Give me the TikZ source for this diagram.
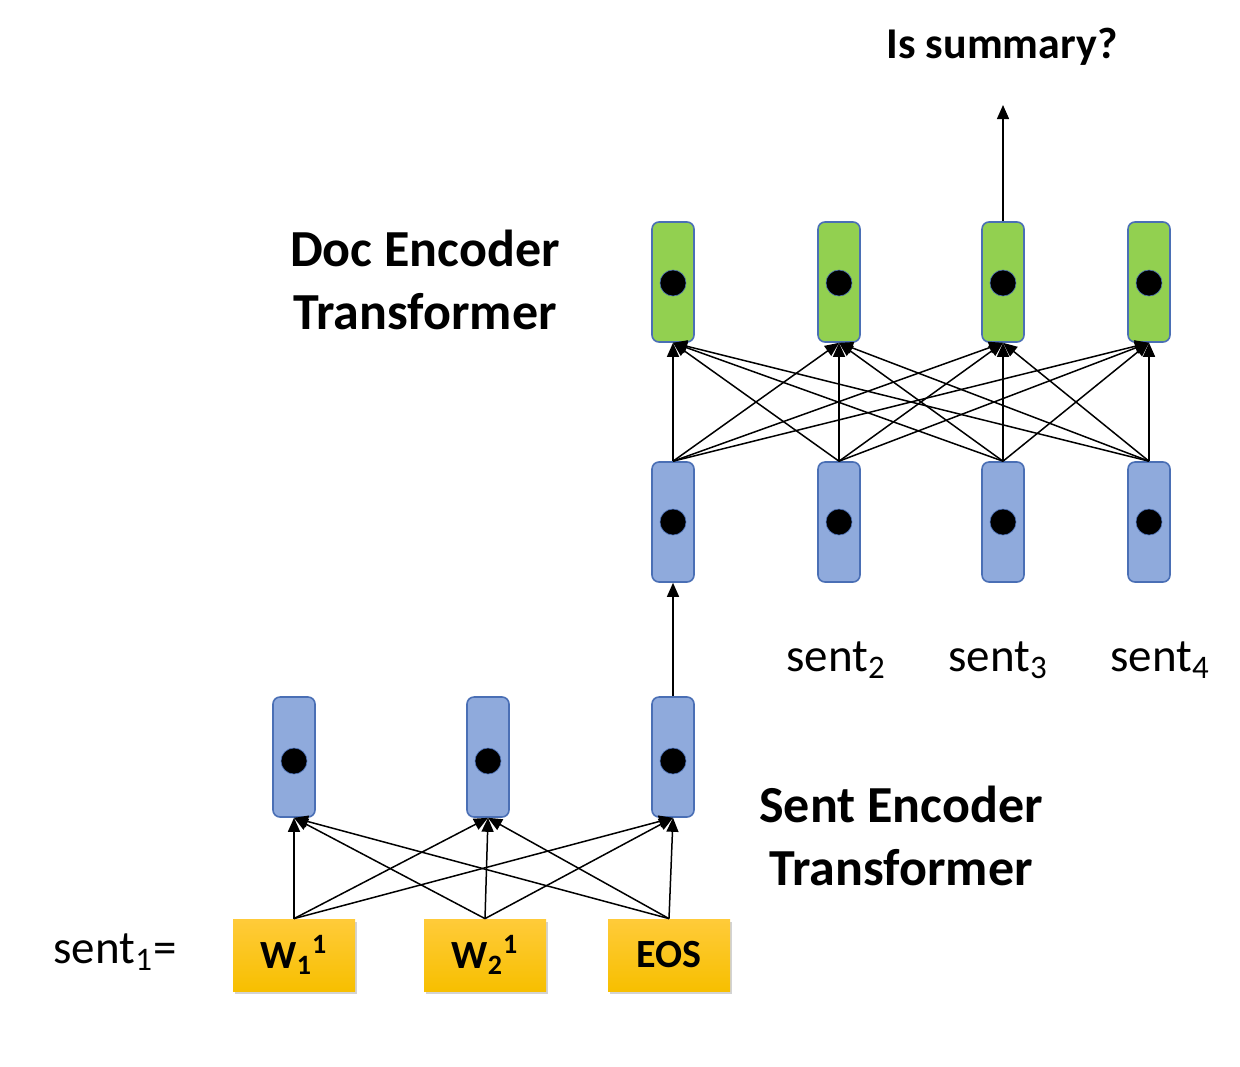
\documentclass[tikz,border=0pt]{standalone}
\usepackage{fontspec}
\setmainfont{Carlito}
\usetikzlibrary{arrows.meta,shadows}
\definecolor{bfill}{HTML}{8FAADC}
\definecolor{bdraw}{HTML}{4A6FB5}
\definecolor{gfill}{HTML}{92D050}
\definecolor{ytop}{HTML}{FFCB3A}
\definecolor{ybot}{HTML}{F7BF00}
\tikzset{
  vec/.style={draw=bdraw, line width=0.8pt, rounded corners=3.5pt, minimum width=21pt, minimum height=60pt, inner sep=0pt},
  bvec/.style={vec, fill=bfill},
  gvec/.style={vec, fill=gfill},
  vdot/.style={circle, fill=black, draw=bdraw, line width=0.3pt, minimum size=13pt, inner sep=0pt},
  word/.style={top color=ytop, bottom color=ybot, minimum width=61pt, minimum height=36pt, inner sep=0pt,
    font=\fontsize{20}{24}\selectfont\bfseries,
    drop shadow={shadow xshift=1pt, shadow yshift=-1.5pt, opacity=0.35}},
  conn/.style={-{Triangle[length=7pt,width=6pt]}, line width=0.75pt},
  big/.style={align=center, font=\fontsize{26}{31.5}\selectfont\bfseries},
  lbl/.style={font=\fontsize{23.5}{28}\selectfont}
}
\begin{document}
\begin{tikzpicture}[x=0.5pt,y=-0.5pt]
\useasboundingbox (0,0) rectangle (1240,1066);
% sentence encoder layer
\foreach \n/\x in {s1/294, s2/488, s3/673}{
  \node[bvec] (\n) at (\x,757) {};
  \node[vdot] (\n dot) at (\x,761) {};
}
\node[word] (w1) at (294,955) {W\textsubscript{1}\textsuperscript{1}};
\node[word] (w2) at (485,955) {W\textsubscript{2}\textsuperscript{1}};
\node[word] (eos) at (669,955) {EOS};
\foreach \a in {w1,w2,eos}{
  \foreach \b in {s1,s2,s3}{
    \draw[conn] (\a.north) -- (\b.south);
  }
}
% document encoder layer
\foreach \n/\x in {1/673, 2/839, 3/1003, 4/1149}{
  \node[bvec] (d\n) at (\x,522) {};
  \node[vdot] (d\n dot) at (\x,522) {};
  \node[gvec] (g\n) at (\x,282) {};
  \node[vdot] (g\n dot) at (\x,283) {};
}
\foreach \a in {1,2,3,4}{
  \foreach \b in {1,2,3,4}{
    \draw[conn] (d\a.north) -- (g\b.south);
  }
}
\draw[conn] (s3.north) -- (d1.south);
\coordinate (out) at (1003,105);
\draw[conn] (g3.north) -- (out);
% labels
\node[font=\fontsize{22}{26}\selectfont\bfseries] (q) at (1002,47) {Is summary?};
\node[big] (doc) at (425,280) {Doc Encoder\\Transformer};
\node[big] (sent) at (901,836) {Sent Encoder\\Transformer};
\node[lbl] (l2) at (836,660) {sent\textsubscript{2}};
\node[lbl] (l3) at (998,660) {sent\textsubscript{3}};
\node[lbl] (l4) at (1160,660) {sent\textsubscript{4}};
\node[lbl] (l1) at (115,952) {sent\textsubscript{1}=};
\end{tikzpicture}
\end{document}
